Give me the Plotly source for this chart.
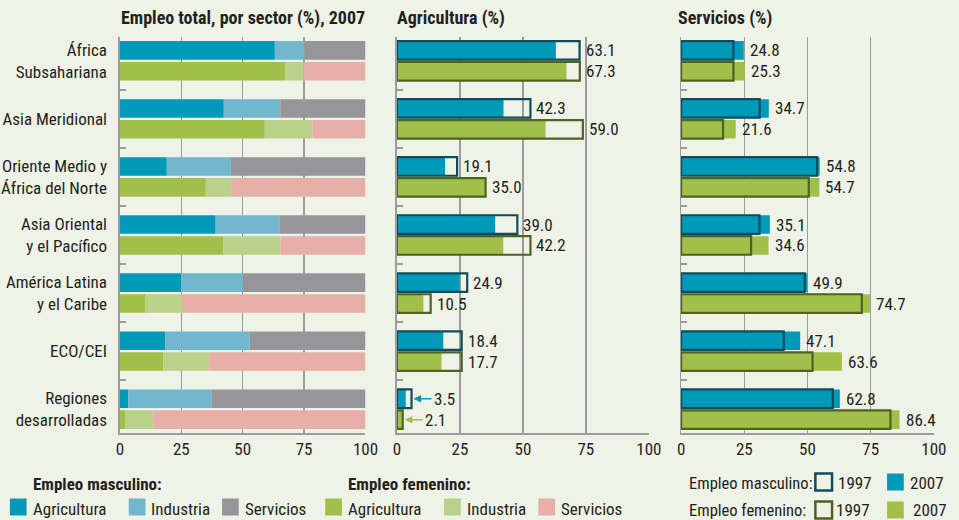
import plotly.graph_objects as go

# ---------------- data ----------------
regions = ["África<br>Subsahariana", "Asia Meridional", "Oriente Medio y<br>África del Norte",
           "Asia Oriental<br>y el Pacífico", "América Latina<br>y el Caribe", "ECO/CEI",
           "Regiones<br>desarrolladas"]

male_agri_2007 = [63.1, 42.3, 19.1, 39.0, 24.9, 18.4, 3.5]
male_ind_2007 = [12.1, 23.0, 26.1, 25.9, 25.2, 34.5, 33.7]
male_serv_2007 = [24.8, 34.7, 54.8, 35.1, 49.9, 47.1, 62.8]
female_agri_2007 = [67.3, 59.0, 35.0, 42.2, 10.5, 17.7, 2.1]
female_ind_2007 = [7.4, 19.4, 10.3, 23.2, 14.8, 18.7, 11.5]
female_serv_2007 = [25.3, 21.6, 54.7, 34.6, 74.7, 63.6, 86.4]

male_agri_1997 = [72.5, 53.0, 23.9, 47.8, 27.9, 25.7, 5.8]
female_agri_1997 = [72.6, 73.8, 35.2, 53.0, 13.4, 25.7, 2.3]
male_serv_1997 = [20.7, 31.1, 53.8, 31.0, 48.9, 40.6, 60.0]
female_serv_1997 = [20.7, 16.6, 50.5, 27.7, 71.5, 52.0, 82.8]

x_ticks = [0, 25, 50, 75, 100]

# ---------------- style ----------------
W, H = 959, 520
BG = "#EFF2E6"
GRID = "#9C9C9C"
TXT = "#231F20"
FONT = "Liberation Sans Narrow, Roboto Condensed, Arial Narrow, DejaVu Sans Condensed, sans-serif"

C_M_AGR, C_M_IND, C_M_SER = "#009AB9", "#72B7CE", "#96969A"
C_F_AGR, C_F_IND, C_F_SER = "#A0C04B", "#B9D188", "#E8AEA8"
C_M_OUT, C_F_OUT = "#0E4C5F", "#4C6322"


def px(x):
    return x / W


def py(y):
    return 1 - y / H


n = len(regions)
idx = list(range(n))
y_m = [i - 0.18 for i in idx]
y_f = [i + 0.18 for i in idx]
BW = 0.32

fig = go.Figure()


def add_stack(series, colors, ypos):
    base = [0.0] * n
    for vals, col in zip(series, colors):
        fig.add_trace(go.Bar(x=vals, y=ypos, base=base, orientation="h", width=BW,
                             marker=dict(color=col, line=dict(width=0)),
                             xaxis="x", yaxis="y", hoverinfo="skip", showlegend=False))
        base = [b + v for b, v in zip(base, vals)]


add_stack([male_agri_2007, male_ind_2007, male_serv_2007], [C_M_AGR, C_M_IND, C_M_SER], y_m)
add_stack([female_agri_2007, female_ind_2007, female_serv_2007], [C_F_AGR, C_F_IND, C_F_SER], y_f)

annotations = []


def add_compare(v07, v97, ypos, fill, outc, xa, ya, arrowcol):
    fig.add_trace(go.Bar(x=v07, y=ypos, orientation="h", width=BW,
                         marker=dict(color=fill, line=dict(width=0)),
                         xaxis=xa, yaxis=ya, hoverinfo="skip", showlegend=False))
    fig.add_trace(go.Bar(x=v97, y=ypos, orientation="h", width=BW,
                         marker=dict(color="rgba(0,0,0,0)", line=dict(width=2.2, color=outc)),
                         xaxis=xa, yaxis=ya, hoverinfo="skip", showlegend=False))
    for a, b, yy in zip(v07, v97, ypos):
        m = max(a, b)
        if m < 8:
            annotations.append(dict(x=m, y=yy, xref=xa, yref=ya, text=f"{a:.1f}",
                                    showarrow=True, arrowhead=2, arrowsize=1, arrowwidth=1.5,
                                    arrowcolor=arrowcol, ax=20, ay=0, xanchor="left",
                                    standoff=2, font=dict(size=17, color=TXT, family=FONT)))
        else:
            annotations.append(dict(x=m, y=yy, xref=xa, yref=ya, text=f"{a:.1f}",
                                    showarrow=False, xanchor="left", xshift=4,
                                    font=dict(size=17, color=TXT, family=FONT)))


add_compare(male_agri_2007, male_agri_1997, y_m, C_M_AGR, C_M_OUT, "x2", "y2", C_M_AGR)
add_compare(female_agri_2007, female_agri_1997, y_f, C_F_AGR, C_F_OUT, "x2", "y2", C_F_AGR)
add_compare(male_serv_2007, male_serv_1997, y_m, C_M_AGR, C_M_OUT, "x3", "y3", C_M_AGR)
add_compare(female_serv_2007, female_serv_1997, y_f, C_F_AGR, C_F_OUT, "x3", "y3", C_F_AGR)

# ---------------- axes ----------------
ydom = [py(433), py(37)]
xdoms = [[px(118), px(368)], [px(400), px(656.5)], [px(689.3), px(946.7)]]

for k, dom in enumerate(xdoms):
    sfx = "" if k == 0 else str(k + 1)
    fig.layout["xaxis" + sfx] = dict(
        domain=dom, range=[0, 100], tickmode="array", tickvals=x_ticks,
        showgrid=True, gridcolor=GRID, gridwidth=1.5, zeroline=False,
        showline=True, linecolor=GRID, linewidth=1.5, ticks="",
        tickfont=dict(size=17, color=TXT, family=FONT),
        anchor="y" + sfx, fixedrange=True)
    fig.layout["yaxis" + sfx] = dict(
        domain=ydom, range=[n - 1 + 0.41, -0.41], tickmode="array", tickvals=idx,
        ticktext=regions, showticklabels=(k == 0), ticks="",
        tickfont=dict(size=17, color=TXT, family=FONT), ticklabelstandoff=8,
        showgrid=False, zeroline=False, showline=True, linecolor=GRID, linewidth=1.5,
        minor=dict(tickmode="array", tickvals=[i + 0.5 for i in range(n - 1)],
                   ticks="inside", ticklen=6, tickcolor=GRID, tickwidth=1.5, showgrid=False),
        anchor="x" + sfx, fixedrange=True)

# ---------------- titles ----------------
for text, x in [("Empleo total, por sector (%), 2007", 117), ("Agricultura (%)", 398),
                ("Servicios (%)", 684)]:
    annotations.append(dict(x=px(x), y=py(18), xref="paper", yref="paper", text=f"<b>{text}</b>",
                            showarrow=False, xanchor="left", yanchor="middle",
                            font=dict(size=18, color=TXT, family=FONT)))

# ---------------- legends ----------------
shapes = []


def sw(x0, yc, color=None, outline=None, size=17):
    if outline:
        shapes.append(dict(type="rect", xref="paper", yref="paper", x0=px(x0), x1=px(x0 + size),
                           y0=py(yc - size / 2), y1=py(yc + size / 2),
                           line=dict(color=outline, width=2.5), fillcolor="rgba(0,0,0,0)"))
    else:
        shapes.append(dict(type="rect", xref="paper", yref="paper", x0=px(x0), x1=px(x0 + size),
                           y0=py(yc - size / 2), y1=py(yc + size / 2),
                           line=dict(width=0), fillcolor=color))


def txt(x, yc, text, bold=False, size=17):
    annotations.append(dict(x=px(x), y=py(yc), xref="paper", yref="paper",
                            text=f"<b>{text}</b>" if bold else text, showarrow=False,
                            xanchor="left", yanchor="middle",
                            font=dict(size=size, color=TXT, family=FONT)))


txt(27, 484, "Empleo masculino:", bold=True)
for x0, col, lab in [(6, C_M_AGR, "Agricultura"), (127, C_M_IND, "Industria"), (222, C_M_SER, "Servicios")]:
    sw(x0, 507, col)
    txt(x0 + 21, 509, lab)

txt(348, 484, "Empleo femenino:", bold=True)
for x0, col, lab in [(327, C_F_AGR, "Agricultura"), (448, C_F_IND, "Industria"), (544, C_F_SER, "Servicios")]:
    sw(x0, 507, col)
    txt(x0 + 21, 509, lab)

txt(695, 483, "Empleo masculino:", size=16.5)
sw(826, 482, outline=C_M_OUT)
txt(847, 483, "1997")
sw(899, 482, C_M_AGR)
txt(920, 483, "2007")

txt(695, 510, "Empleo femenino:", size=16.5)
sw(826, 510, outline=C_F_OUT)
txt(845, 510, "1997")
sw(899, 510, C_F_AGR)
txt(923, 510, "2007")

fig.update_layout(
    width=W, height=H, autosize=False, barmode="overlay",
    margin=dict(l=0, r=0, t=0, b=0),
    paper_bgcolor=BG, plot_bgcolor=BG,
    font=dict(family=FONT, color=TXT, size=17),
    annotations=annotations, shapes=shapes, showlegend=False,
)

fig.write_html(
    "out.html",
    config={"displayModeBar": False, "staticPlot": True},
    post_script="document.body.style.margin='0px';document.body.style.padding='0px';"
                "document.body.style.overflow='hidden';"
                "document.documentElement.style.overflow='hidden';",
)
